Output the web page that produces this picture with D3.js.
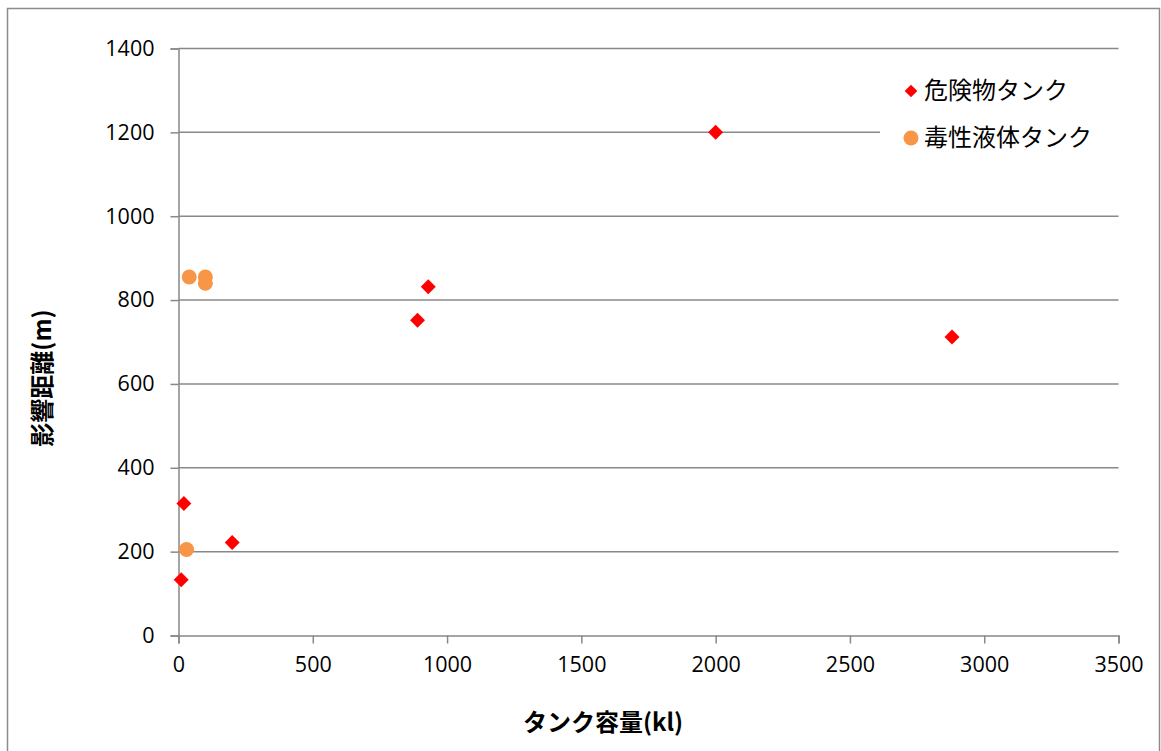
<!DOCTYPE html>
<html><head><meta charset="utf-8">
<script src="https://cdn.jsdelivr.net/npm/d3@7"></script>
<style>body{margin:0;background:#fff}svg{display:block}</style>
</head><body>
<svg id="chart" width="1161" height="751"></svg>
<script>
const seriesNames = ["危険物タンク", "毒性液体タンク"];
const hazardX = [10, 20, 200, 890, 930, 2000, 2880];
const hazardY = [133, 315, 222, 752, 832, 1200, 712];
const toxicX = [30, 40, 100, 100];
const toxicY = [205, 855, 855, 840];
const xTicks = [0, 500, 1000, 1500, 2000, 2500, 3000, 3500];
const yTicks = [0, 200, 400, 600, 800, 1000, 1200, 1400];
const xTitle = "タンク容量(kl)";
const yTitle = "影響距離(m)";

const svg = d3.select("#chart");
const mLeft = 178.5, mRight = 1118.5, mTop = 48.5, mBottom = 635.5;
const x = d3.scaleLinear().domain([0, 3500]).range([mLeft, mRight]);
const y = d3.scaleLinear().domain([0, 1400]).range([mBottom, mTop]);
const grid = "#888888";
const tickFont = "'Open Sans', 'Noto Sans CJK JP', sans-serif";
const cjkFont = "'Noto Sans CJK JP', sans-serif";

svg.append("rect").attr("x", 7.5).attr("y", 8.5).attr("width", 1152).attr("height", 750)
  .attr("fill", "#fff").attr("stroke", "#8c8c8c").attr("stroke-width", 1.5);

// gridlines
svg.append("g").selectAll("line").data(yTicks.filter(d => d > 0)).join("line")
  .attr("x1", mLeft).attr("x2", mRight).attr("y1", d => y(d)).attr("y2", d => y(d))
  .attr("stroke", grid).attr("stroke-width", 1.5);

// y axis
const ya = svg.append("g").attr("transform", `translate(${mLeft},0)`)
  .call(d3.axisLeft(y).tickValues(yTicks).tickSize(8).tickPadding(16).tickFormat(d3.format("d")));
ya.select(".domain").attr("stroke", grid).attr("stroke-width", 1.5);
ya.selectAll(".tick line").attr("stroke", grid).attr("stroke-width", 1.5);
ya.selectAll("text").attr("font-family", tickFont).attr("font-size", 21.5).attr("fill", "#000");

// x axis
const xa = svg.append("g").attr("transform", `translate(0,${mBottom})`)
  .call(d3.axisBottom(x).tickValues(xTicks).tickSize(8).tickPadding(13).tickFormat(d3.format("d")));
xa.select(".domain").attr("stroke", grid).attr("stroke-width", 1.5);
xa.selectAll(".tick line").attr("stroke", grid).attr("stroke-width", 1.5);
xa.selectAll("text").attr("font-family", tickFont).attr("font-size", 21.5).attr("fill", "#000");

// legend background
svg.append("rect").attr("x", 880).attr("y", 62).attr("width", 242).attr("height", 100).attr("fill", "#fff");

const diamond = d3.symbol().type(d3.symbolSquare).size(112);
const hazard = hazardX.map((v, i) => [v, hazardY[i]]);
const toxic = toxicX.map((v, i) => [v, toxicY[i]]);

svg.append("g").selectAll("circle").data(toxic).join("circle")
  .attr("cx", d => x(d[0])).attr("cy", d => y(d[1])).attr("r", 7.5).attr("fill", "#F79646");
svg.append("g").selectAll("path").data(hazard).join("path")
  .attr("d", diamond).attr("transform", d => `translate(${x(d[0])},${y(d[1])}) rotate(45)`)
  .attr("fill", "#FF0000");

// legend
const lg = svg.append("g");
lg.append("path").attr("d", d3.symbol().type(d3.symbolSquare).size(80)())
  .attr("transform", "translate(911,91) rotate(45)").attr("fill", "#FF0000");
lg.append("circle").attr("cx", 911).attr("cy", 138).attr("r", 7.5).attr("fill", "#F79646");
lg.selectAll("text").data(seriesNames).join("text")
  .attr("x", 924).attr("y", (d, i) => 90 + i * 47).attr("dy", "0.36em")
  .attr("font-family", cjkFont).attr("font-size", 24).attr("fill", "#000").text(d => d);

// axis titles
svg.append("text").attr("x", 603).attr("y", 722).attr("dy", "0.36em").attr("text-anchor", "middle")
  .attr("font-family", cjkFont).attr("font-weight", "bold").attr("font-size", 24).text(xTitle);
svg.append("text").attr("transform", "translate(42,378) rotate(-90)").attr("dy", "0.36em")
  .attr("text-anchor", "middle").attr("font-family", cjkFont).attr("font-weight", "bold")
  .attr("font-size", 24).text(yTitle);
</script>
</body></html>
